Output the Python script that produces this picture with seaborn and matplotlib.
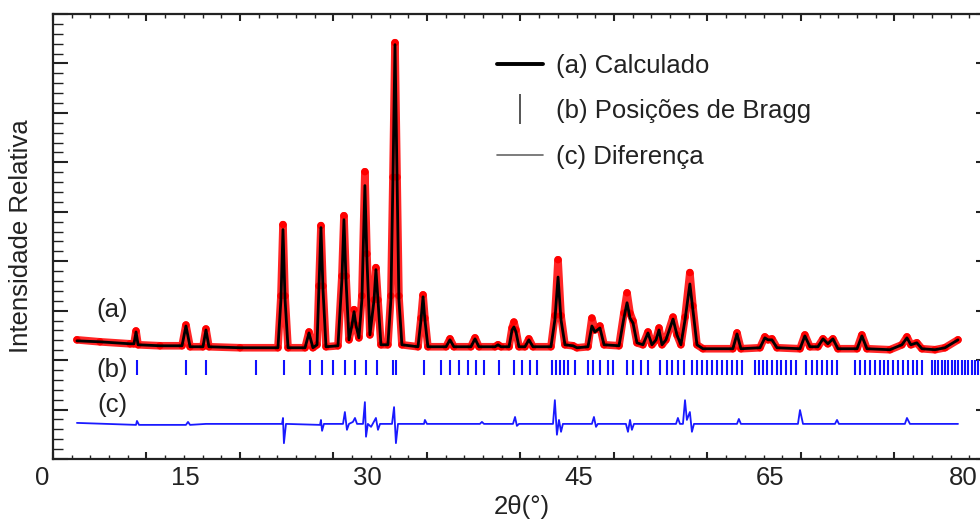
import seaborn as sns
import numpy as np
import matplotlib.pyplot as plt
from matplotlib.lines import Line2D
from matplotlib.ticker import MultipleLocator

# scan positions (axis units, 5 per major tick) and intensities
calc_x = [1.28, 2.51, 4.12, 4.33, 4.44, 4.55, 5.72, 6.90, 7.11, 7.33,
          8.02, 8.18, 8.34, 10.00, 12.03, 12.19, 12.30, 12.41, 12.57, 13.48,
          13.69, 13.90, 14.12, 14.22, 14.33, 14.44, 14.60, 15.24, 15.45, 15.56,
          15.67, 15.83, 15.99, 16.10, 16.20, 16.36, 16.52, 16.68, 16.79, 16.95,
          17.17, 17.27, 17.38, 17.54, 17.91, 18.07, 18.18, 18.29, 18.40, 18.50,
          18.66, 19.52, 19.68, 19.79, 19.89, 20.05, 21.02, 21.23, 21.44, 22.35,
          22.57, 22.78, 23.64, 23.80, 23.96, 24.39, 24.55, 24.65, 24.76, 24.92,
          25.24, 25.45, 25.67, 26.63, 26.84, 27.01, 27.17, 27.38, 27.81, 28.02,
          28.61, 28.82, 28.98, 29.25, 29.47, 30.27, 30.53, 30.70, 30.86, 31.02,
          31.23, 31.55, 31.82, 32.03, 32.25, 32.41, 32.57, 32.78, 33.16, 33.37,
          33.58, 33.80, 34.06, 34.22, 34.44, 34.76, 36.36, 36.58, 36.79, 37.81,
          38.07, 38.24, 38.45, 38.72, 39.95, 40.21, 40.48, 40.91, 41.18, 41.44,
          41.71, 41.98, 43.00, 43.26, 43.53, 44.76, 45.40, 45.67, 45.88, 46.20,
          46.47, 47.17, 47.70, 48.40]
calc_y = [2.39, 2.37, 2.33, 2.33, 2.57, 2.31, 2.29, 2.29, 2.69, 2.27,
          2.27, 2.61, 2.27, 2.25, 2.25, 3.22, 4.64, 3.22, 2.25, 2.25,
          2.55, 2.25, 2.31, 3.42, 4.68, 3.42, 2.27, 2.29, 3.62, 4.84,
          3.62, 2.41, 2.71, 2.98, 2.71, 2.45, 3.22, 5.53, 4.03, 2.51,
          3.22, 3.83, 3.22, 2.31, 2.31, 3.22, 5.65, 8.38, 5.65, 3.22,
          2.31, 2.27, 2.81, 3.28, 2.81, 2.27, 2.27, 2.41, 2.27, 2.27,
          2.43, 2.27, 2.27, 2.31, 2.27, 2.27, 2.61, 2.67, 2.57, 2.27,
          2.27, 2.41, 2.27, 2.27, 2.81, 3.68, 2.81, 2.31, 2.29, 2.25,
          2.27, 2.69, 2.57, 2.65, 2.31, 2.29, 2.85, 3.16, 2.85, 2.75,
          2.35, 2.31, 2.55, 2.31, 2.41, 2.61, 2.31, 2.41, 2.83, 2.51,
          2.31, 2.81, 3.54, 3.02, 2.31, 2.23, 2.23, 2.53, 2.23, 2.25,
          2.45, 2.41, 2.41, 2.25, 2.23, 2.49, 2.27, 2.27, 2.43, 2.33,
          2.43, 2.23, 2.23, 2.49, 2.23, 2.21, 2.31, 2.45, 2.31, 2.35,
          2.23, 2.21, 2.25, 2.41]
obs_y = [2.41, 2.37, 2.33, 2.33, 2.59, 2.31, 2.29, 2.29, 2.71, 2.27,
         2.27, 2.63, 2.27, 2.25, 2.25, 3.30, 4.74, 3.30, 2.25, 2.25,
         2.57, 2.25, 2.31, 3.50, 4.72, 3.50, 2.27, 2.29, 3.70, 4.92,
         3.70, 2.41, 2.71, 3.02, 2.71, 2.45, 3.30, 5.81, 4.15, 2.51,
         3.22, 3.87, 3.22, 2.31, 2.31, 3.30, 5.70, 8.42, 5.70, 3.30,
         2.31, 2.27, 2.85, 3.32, 2.85, 2.27, 2.27, 2.43, 2.27, 2.27,
         2.45, 2.27, 2.27, 2.31, 2.27, 2.27, 2.65, 2.77, 2.61, 2.27,
         2.27, 2.43, 2.27, 2.27, 2.90, 4.03, 2.90, 2.31, 2.29, 2.25,
         2.27, 2.85, 2.61, 2.69, 2.31, 2.29, 2.95, 3.36, 2.95, 2.79,
         2.35, 2.31, 2.57, 2.31, 2.41, 2.65, 2.31, 2.41, 2.87, 2.51,
         2.31, 2.87, 3.77, 3.10, 2.31, 2.23, 2.23, 2.55, 2.23, 2.25,
         2.47, 2.41, 2.43, 2.25, 2.23, 2.51, 2.27, 2.27, 2.43, 2.33,
         2.43, 2.23, 2.23, 2.51, 2.23, 2.21, 2.31, 2.47, 2.31, 2.35,
         2.23, 2.21, 2.25, 2.41]

diff_x = [1.28, 4.44, 4.49, 4.60, 7.11, 7.22, 7.33, 8.18, 12.25, 12.30,
          12.35, 12.46, 14.28, 14.33, 14.39, 14.49, 15.51, 15.61, 15.72, 15.83,
          16.04, 16.15, 16.26, 16.58, 16.68, 16.74, 16.84, 17.01, 17.27, 17.38,
          17.49, 18.13, 18.24, 18.34, 18.45, 19.84, 19.89, 20.00, 22.83, 22.94,
          23.05, 24.60, 24.71, 24.81, 24.92, 26.74, 26.84, 26.95, 27.06, 27.17,
          27.27, 28.82, 28.93, 29.04, 29.14, 30.64, 30.75, 30.86, 30.96, 31.07,
          33.32, 33.42, 33.53, 33.69, 33.80, 33.90, 34.06, 34.17, 34.28, 36.58,
          36.68, 36.79, 39.84, 39.95, 40.11, 41.82, 41.93, 42.03, 45.56, 45.67,
          45.83, 48.40]
diff_y = [0.73, 0.69, 0.77, 0.69, 0.69, 0.75, 0.69, 0.71, 0.71, 0.83,
          0.32, 0.71, 0.69, 0.79, 0.57, 0.71, 0.71, 0.95, 0.59, 0.71,
          0.75, 0.83, 0.71, 0.71, 1.15, 0.45, 0.71, 0.65, 0.83, 0.59,
          0.71, 0.71, 1.05, 0.32, 0.71, 0.71, 0.79, 0.71, 0.71, 0.75,
          0.71, 0.71, 0.85, 0.67, 0.71, 0.71, 1.19, 0.49, 0.79, 0.55,
          0.71, 0.71, 0.85, 0.65, 0.71, 0.71, 0.55, 0.79, 0.59, 0.71,
          0.71, 0.83, 0.71, 0.71, 1.19, 0.79, 0.95, 0.55, 0.71, 0.71,
          0.81, 0.71, 0.71, 0.99, 0.71, 0.71, 0.79, 0.71, 0.71, 0.83,
          0.71, 0.71]

bragg_x = [4.49, 7.11, 8.18, 10.86, 12.35, 13.74, 14.39, 14.97, 15.61, 16.15,
           16.74, 17.33, 18.18, 18.34, 19.84, 20.75, 21.23, 21.71, 22.19, 22.62,
           23.05, 23.85, 24.65, 25.08, 25.51, 25.88, 26.68, 26.90, 27.11, 27.33,
           27.54, 27.91, 28.61, 28.88, 29.25, 29.68, 29.95, 30.70, 31.02, 31.44,
           31.82, 32.46, 32.83, 33.10, 33.42, 33.74, 34.17, 34.44, 34.71, 34.97,
           35.24, 35.51, 35.78, 36.04, 36.31, 36.58, 36.84, 37.54, 37.75, 37.97,
           38.18, 38.45, 38.72, 38.93, 39.20, 39.47, 39.73, 40.27, 40.59, 40.86,
           41.12, 41.39, 41.66, 41.93, 42.89, 43.16, 43.42, 43.69, 43.96, 44.22,
           44.44, 44.65, 44.92, 45.19, 45.45, 45.72, 45.99, 46.20, 46.47, 47.01,
           47.17, 47.33, 47.54, 47.70, 47.86, 48.07, 48.24, 48.40, 48.61, 48.77,
           48.93, 49.14, 49.30, 49.47]

tick_labels = ["0", "15", "30", "45", "65", "80"]
tick_pos = [-0.59, 7.06, 16.79, 28.13, 38.34, 48.66]

curve_labels = ["(a)", "(b)", "(c)"]
curve_label_y = [3.02, 1.80, 1.09]

legend_labels = ["(a) Calculado", "(b) Posições de Bragg", "(c) Diferença"]

sns.set_theme(style="ticks")
plt.rcParams["font.family"] = ["Liberation Sans", "DejaVu Sans"]
txt = "#222222"
fs = 18.5

fig = plt.figure(figsize=(9.8, 5.19), dpi=100)
ax = fig.add_axes([53 / 980, 60 / 519, 928 / 980, 445 / 519])

# observed points (red), calculated profile (black)
sns.lineplot(x=calc_x, y=obs_y, color="red", lw=5.5, alpha=0.85,
             estimator=None, sort=False, ax=ax)
sns.scatterplot(x=calc_x, y=obs_y, color="red", s=28, edgecolor="none", ax=ax)
sns.lineplot(x=calc_x, y=calc_y, color="black", lw=2.0,
             estimator=None, sort=False, ax=ax)

# Bragg positions and difference curve
ax.vlines(bragg_x, 1.70, 2.00, color="#1010ff", lw=1.5)
sns.lineplot(x=diff_x, y=diff_y, color="#1a1aff", lw=1.3,
             estimator=None, sort=False, ax=ax)

ax.set_xlim(0, 49.63)
ax.set_ylim(0, 9)
ax.xaxis.set_major_locator(MultipleLocator(5))
ax.xaxis.set_minor_locator(MultipleLocator(1))
ax.yaxis.set_major_locator(MultipleLocator(1))
ax.yaxis.set_minor_locator(MultipleLocator(0.2))

ax.tick_params(axis="x", which="major", direction="in", length=5, width=1.5,
               top=True, bottom=True, labelbottom=False, color=txt)
ax.tick_params(axis="x", which="minor", direction="in", length=3.2, width=1.0,
               top=True, bottom=True, color=txt)
ax.tick_params(axis="y", which="major", direction="in", length=11, width=1.5,
               left=True, right=False, labelleft=False, color=txt)
ax.tick_params(axis="y", which="minor", direction="in", length=7.5, width=1.0,
               left=True, right=False, color=txt)

sec = ax.secondary_yaxis("right")
sec.yaxis.set_major_locator(MultipleLocator(1))
sec.yaxis.set_minor_locator(MultipleLocator(100))
sec.tick_params(axis="y", which="major", direction="in", length=3.5, width=1.5,
                labelright=False, color=txt)

for sp in list(ax.spines.values()) + [sec.spines["right"]]:
    sp.set_linewidth(1.6)
    sp.set_color(txt)

# hand placed x tick labels as in the reference
for lab, pos in zip(tick_labels, tick_pos):
    ax.text(pos, -0.0427, lab, transform=ax.get_xaxis_transform(),
            ha="center", va="center", fontsize=fs, color=txt, clip_on=False)

ax.set_xlabel("2θ(°)", fontsize=fs, color=txt)
ax.xaxis.label.set_va("center")
ax.xaxis.set_label_coords(0.505, -0.108)
ax.set_ylabel("Intensidade Relativa", fontsize=fs, color=txt)
ax.yaxis.label.set_va("center")
ax.yaxis.set_label_coords(-0.0345, 0.5)

for lab, yy in zip(curve_labels, curve_label_y):
    ax.text(3.16, yy, lab, ha="center", va="center", fontsize=fs, color=txt)

handles = [
    Line2D([], [], color="black", lw=2.8),
    Line2D([], [], color="#555555", marker="|", markersize=22, mew=1.4, ls="None"),
    Line2D([], [], color="#666666", lw=1.2),
]
ax.legend(handles, legend_labels, loc="upper left",
          bbox_to_anchor=(497 / 980, 1 - 54 / 519), bbox_transform=fig.transFigure,
          frameon=False, fontsize=fs, handlelength=1.8, handletextpad=0.5,
          labelspacing=0.83, borderpad=0, borderaxespad=0, labelcolor=txt)

fig.savefig("out.png", dpi=100, facecolor="white")
